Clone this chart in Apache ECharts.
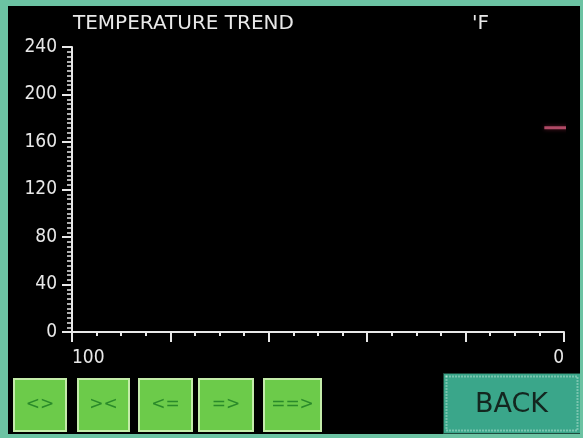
<!DOCTYPE html>
<html>
<head>
<meta charset="utf-8">
<script src="https://cdn.jsdelivr.net/npm/echarts@6/dist/echarts.min.js"></script>
<style>
body { margin: 0; background: #6cc3a3; width: 583px; height: 438px; overflow: hidden; }
#frame { position: absolute; left: 8px; top: 6px; width: 572px; height: 428px; background: #000; }
#myCharts { width: 572px; height: 428px; }
</style>
</head>
<body>
<div id="frame"><div id="myCharts"></div></div>
<script>
// trend data: seconds ago -> temperature (F)
var trendSeconds = [4, 2, 0, -2]
var trendTemps = [172, 172, 172, 172]

var yTicks = [0, 40, 80, 120, 160, 200, 240]
var xEndLabels = [100, 0]
var buttonLabels = ['<>', '><', '<=', '=>', '==>']

var font = "'DejaVu Sans Condensed', 'DejaVu Sans', sans-serif"
var wideFont = "'DejaVu Sans', sans-serif"
var btnX = [5, 69, 130, 190, 255]
var btnW = [52, 51, 53, 54, 57]

var myChart = echarts.init(document.getElementById('myCharts'))

var graphics = [{
    type: 'text', left: 65, top: 8,
    style: { text: 'TEMPERATURE TREND', fill: '#e8e8e8', font: '20px ' + wideFont }
}, {
    type: 'text', left: 464, top: 8,
    style: { text: "'F", fill: '#e8e8e8', font: '20px ' + wideFont }
}]
buttonLabels.forEach(function (lbl, i) {
    graphics.push({
        type: 'group', left: btnX[i], top: 372,
        children: [{
            type: 'rect', shape: { x: 0, y: 0, width: btnW[i], height: 52 },
            style: { fill: '#6ccb4a', stroke: '#c4ecaa', lineWidth: 2 }
        }, {
            type: 'text', x: btnW[i] / 2, y: 26,
            style: { text: lbl, fill: '#2a8a2a', font: '17px ' + wideFont, align: 'center', verticalAlign: 'middle' }
        }]
    })
})
graphics.push({
    type: 'group', left: 435, top: 367,
    children: [{
        type: 'rect', shape: { x: 0, y: 0, width: 137, height: 60 },
        style: { fill: '#3aa68a', stroke: '#1d4a3c', lineWidth: 1 }
    }, {
        type: 'rect', shape: { x: 3, y: 3, width: 131, height: 54 },
        style: { fill: 'none', stroke: '#b8e4d4', lineWidth: 2, lineDash: [1, 2] }
    }, {
        type: 'text', x: 68, y: 31,
        style: { text: 'BACK', fill: '#13261f', font: '27px ' + wideFont, align: 'center', verticalAlign: 'middle' }
    }]
})

myChart.setOption({
    backgroundColor: 'transparent',
    animation: false,
    grid: { left: 64, right: 16, top: 41, bottom: 102 },
    xAxis: {
        type: 'value',
        min: 0,
        max: 100,
        interval: 20,
        inverse: true,
        axisLine: { onZero: false, lineStyle: { color: '#e8e8e8', width: 2 } },
        axisTick: { show: true, length: 10, lineStyle: { color: '#e8e8e8', width: 2 } },
        minorTick: { show: true, splitNumber: 4, length: 4, lineStyle: { color: '#e8e8e8', width: 2 } },
        splitLine: { show: false },
        axisLabel: {
            margin: 17,
            color: '#e8e8e8',
            fontFamily: font,
            fontSize: 19,
            alignMinLabel: 'right',
            alignMaxLabel: 'left',
            formatter: function (v) {
                return xEndLabels.indexOf(v) >= 0 ? String(v) : ''
            }
        }
    },
    yAxis: {
        type: 'value',
        position: 'left',
        min: yTicks[0],
        max: yTicks[yTicks.length - 1],
        interval: 40,
        axisLine: { show: true, onZero: false, lineStyle: { color: '#e8e8e8', width: 2 } },
        axisTick: { show: true, length: 10, lineStyle: { color: '#e8e8e8', width: 2 } },
        minorTick: { show: true, splitNumber: 10, length: 5, lineStyle: { color: '#e8e8e8', width: 1.5 } },
        splitLine: { show: false },
        axisLabel: { margin: 15, color: '#e8e8e8', fontFamily: font, fontSize: 19 }
    },
    graphic: graphics,
    series: [{
        type: 'line',
        data: trendSeconds.map(function (s, i) { return [s, trendTemps[i]] }),
        showSymbol: false,
        clip: false,
        lineStyle: { color: '#b04a66', width: 3, shadowColor: '#5a1828', shadowBlur: 4 }
    }]
})
</script>
</body>
</html>
